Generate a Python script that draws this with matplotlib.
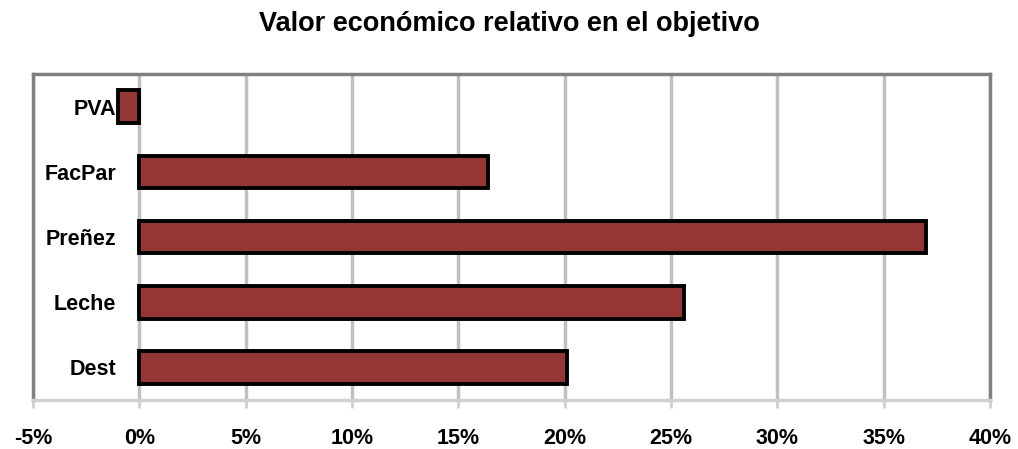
import matplotlib.pyplot as plt
from matplotlib.ticker import FuncFormatter

categories = ["Dest", "Leche", "Preñez", "FacPar", "PVA"]
values = [20.1, 25.6, 37.0, 16.4, -1.0]
xticks = [-5, 0, 5, 10, 15, 20, 25, 30, 35, 40]

plt.rcParams['font.family'] = ['Liberation Sans', 'DejaVu Sans']

fig = plt.figure(figsize=(10.18, 4.49), dpi=100)
ax = fig.add_axes([0.0324, 0.109, 0.9400, 0.726])

ax.barh(range(len(categories)), values, height=0.5, color="#943634",
        edgecolor="black", linewidth=2.8, zorder=3)

ax.set_xlim(-5, 40)
ax.set_ylim(-0.5, 4.5)
ax.set_xticks(xticks)
ax.xaxis.set_major_formatter(FuncFormatter(lambda v, p: f"{v:.0f}%"))
ax.set_yticks(range(len(categories)))
ax.set_yticklabels(categories)

ax.grid(axis="x", color="#c0c0c0", linewidth=2.5, zorder=0)
for s in ["top", "left", "right"]:
    ax.spines[s].set_color("#808080")
    ax.spines[s].set_linewidth(2.5)
ax.spines["bottom"].set_color("#d0d0d0")
ax.spines["bottom"].set_linewidth(2.5)

ax.tick_params(axis="x", length=6, width=2, color="#d0d0d0", pad=14,
               labelsize=15.5)
# category labels sit inside the plot, in the -5%..0% strip
ax.tick_params(axis="y", length=0, pad=-60, labelsize=15.5)
for lab in ax.get_xticklabels() + ax.get_yticklabels():
    lab.set_fontweight("bold")

fig.suptitle("Valor económico relativo en el objetivo", y=0.975,
             fontsize=19.5, fontweight="bold")

fig.savefig("out.png", dpi=100)
